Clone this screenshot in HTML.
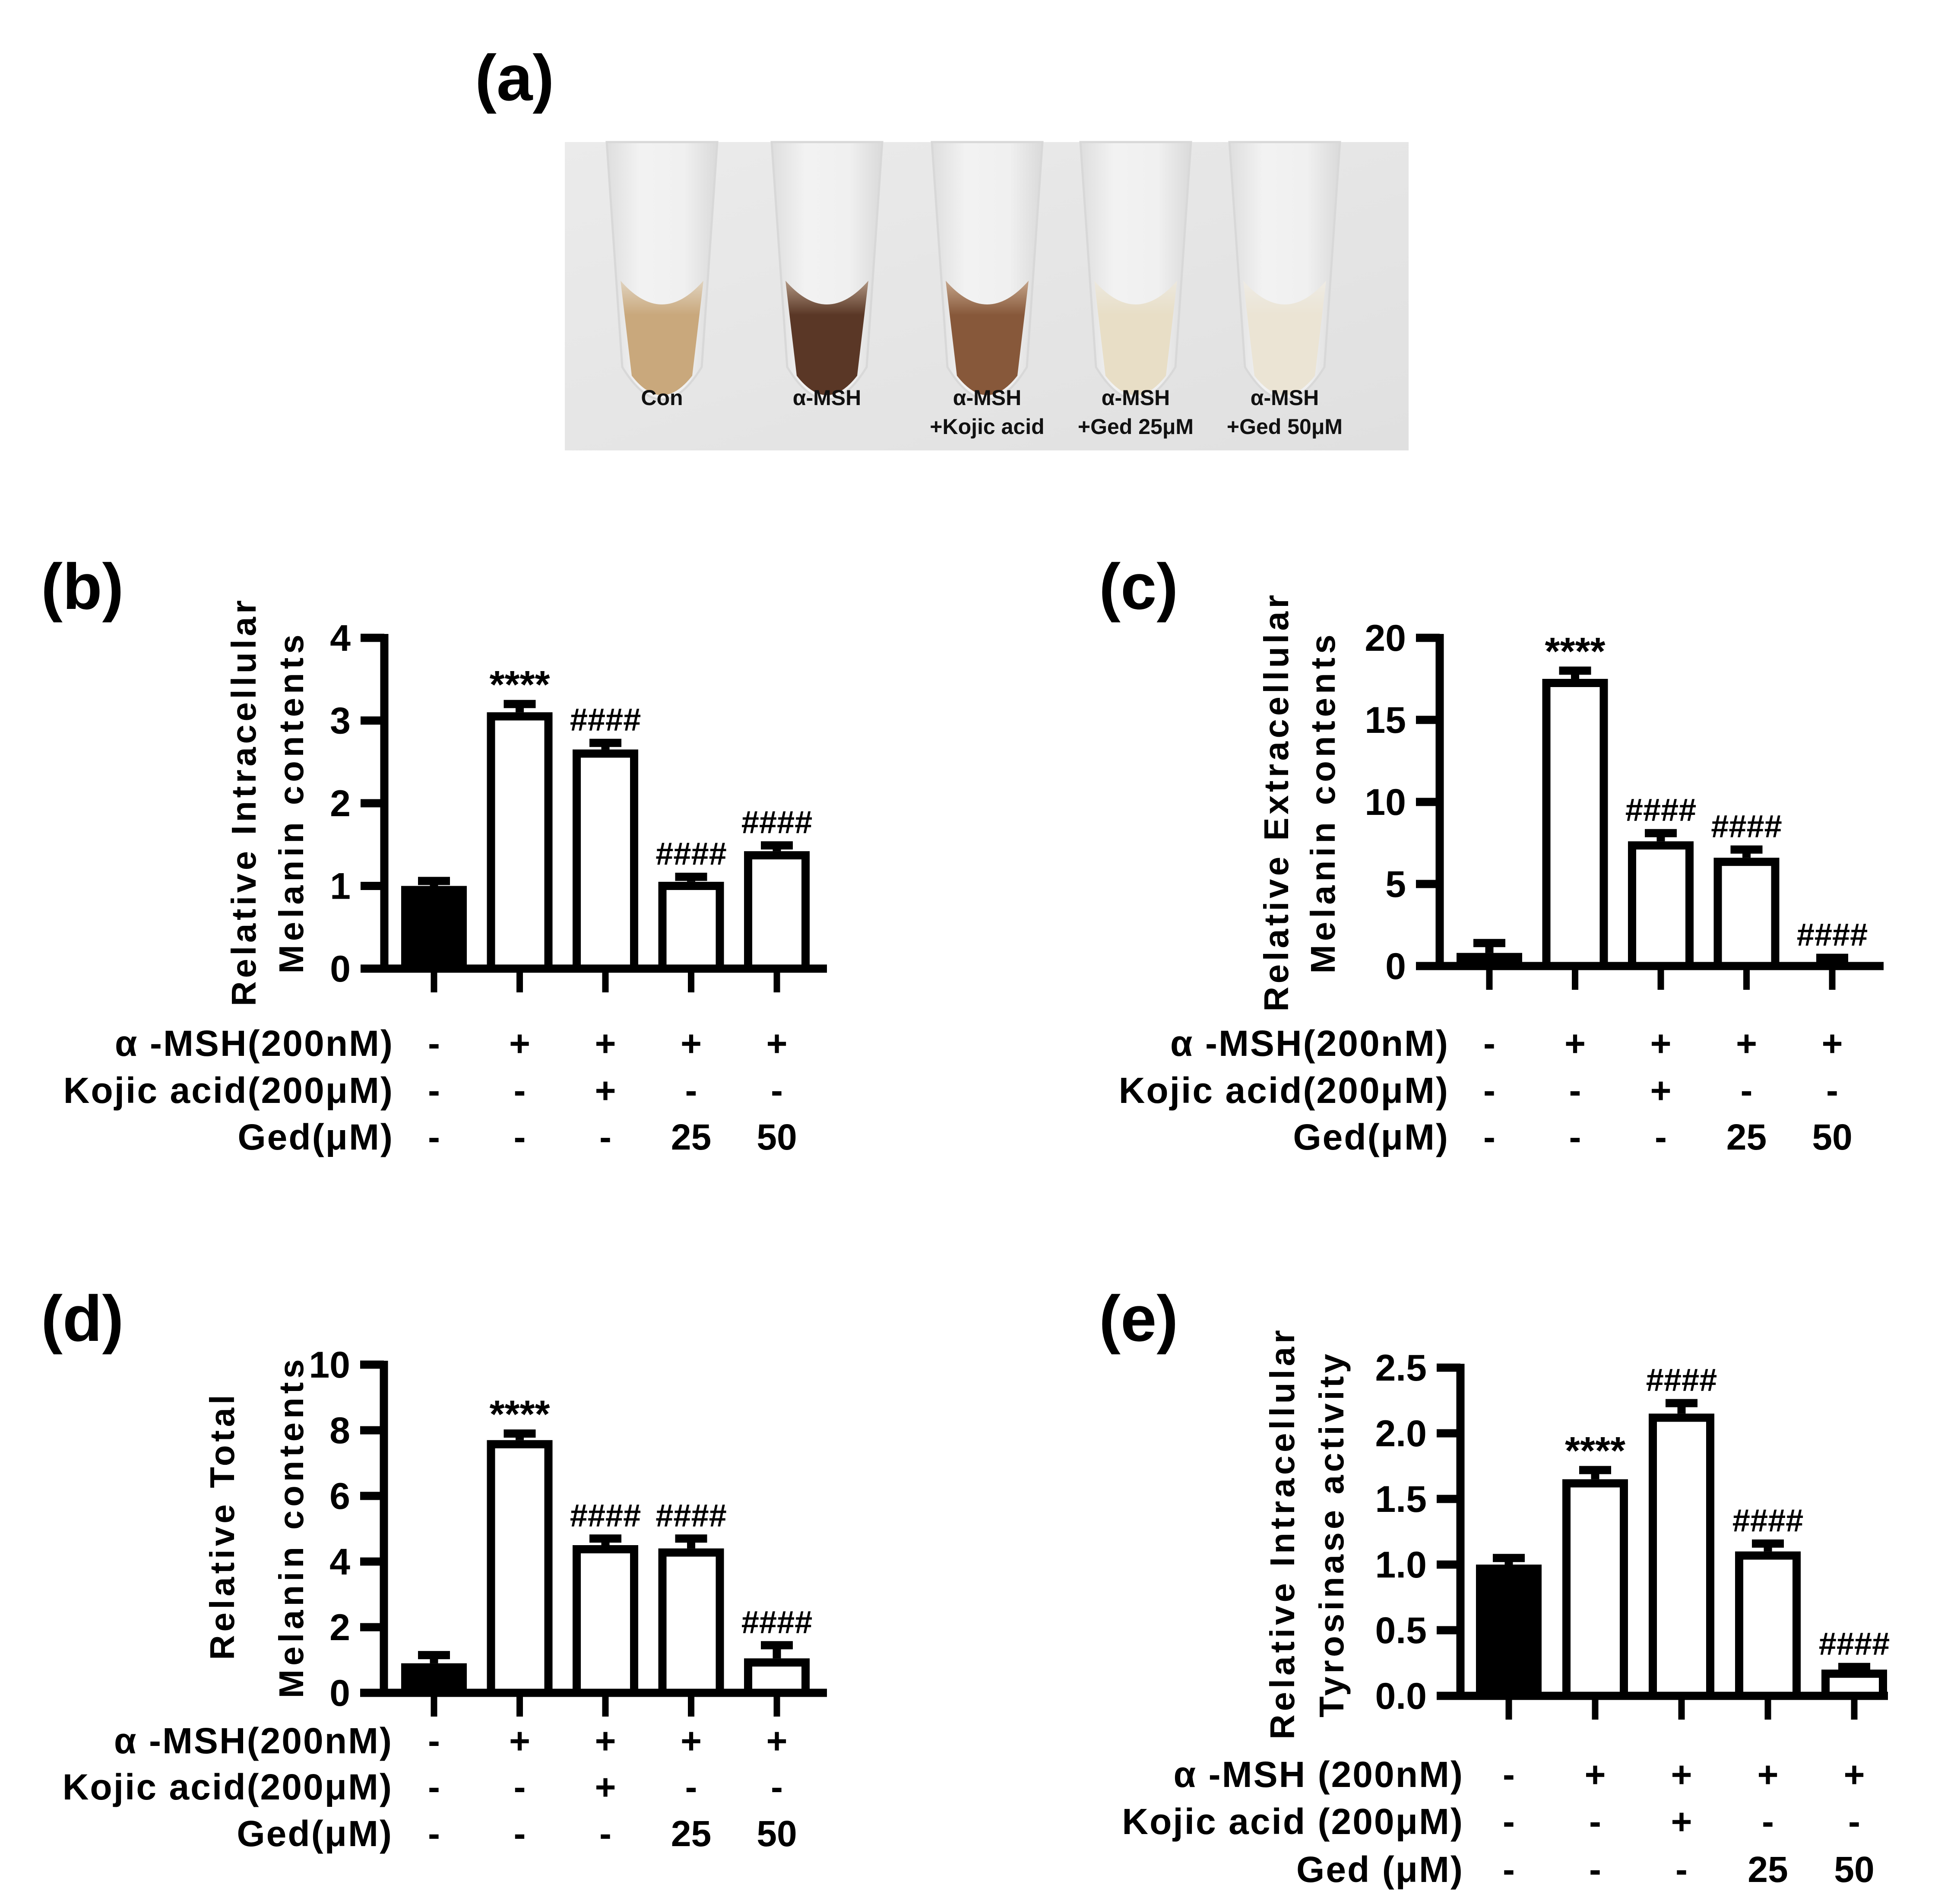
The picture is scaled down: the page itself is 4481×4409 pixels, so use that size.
<!DOCTYPE html>
<html><head><meta charset="utf-8"><title>Melanin figure</title>
<style>
html,body{margin:0;padding:0;background:#fff;}
svg{display:block;}
text{font-family:"Liberation Sans",Arial,sans-serif;}
</style></head>
<body>
<svg id="fig" width="4481" height="4409" viewBox="0 0 4481 4409" xmlns="http://www.w3.org/2000/svg">
<defs>
  <linearGradient id="bg" x1="0" y1="0" x2="1" y2="1">
    <stop offset="0" stop-color="#ebebeb"/><stop offset="1" stop-color="#e0e0e0"/>
  </linearGradient>
  <linearGradient id="tubeG" x1="0" y1="0" x2="1" y2="0">
    <stop offset="0" stop-color="#dedede"/><stop offset="0.3" stop-color="#f2f2f2"/><stop offset="0.7" stop-color="#f0f0f0"/><stop offset="1" stop-color="#dadada"/>
  </linearGradient>
</defs>
<g id="photo">
  <rect x="1308" y="329" width="1954" height="714" fill="url(#bg)"/>
</g>
<g id="panels"></g>
</svg>
<script>
// ---- Photo data ----
const tubeLabels1 = ["Con","α-MSH","α-MSH","α-MSH","α-MSH"];
const tubeLabels2 = ["","","+Kojic acid","+Ged 25μM","+Ged 50μM"];
const tubeColors = ["#c9a87c","#5a3726","#87583a","#e8dec6","#ebe4d4"];
const tubeTopColors = ["#e0d3bf","#b09682","#c4a48a","#ece8de","#eeebe4"];
const tubeCenters = [1533,1915,2286,2630,2975];

// ---- Chart data ----
const groups = ["Con","α-MSH","α-MSH+Kojic","α-MSH+Ged25","α-MSH+Ged50"];
const rowMSH = ["-","+","+","+","+"];
const rowKojic = ["-","-","+","-","-"];
const rowGed = ["-","-","-","25","50"];

const bValues = [1.0,3.1,2.65,1.05,1.42];
const bErrors = [0.06,0.1,0.08,0.06,0.07];
const bTicks = [0,1,2,3,4];
const bTickLabels = ["0","1","2","3","4"];
const bSig = ["","****","####","####","####"];

const cValues = [0.8,17.5,7.6,6.6,0.2];
const cErrors = [0.6,0.5,0.5,0.5,0.3];
const cTicks = [0,5,10,15,20];
const cTickLabels = ["0","5","10","15","20"];
const cSig = ["","****","####","####","####"];

const dValues = [0.9,7.7,4.5,4.4,1.05];
const dErrors = [0.25,0.2,0.2,0.3,0.4];
const dTicks = [0,2,4,6,8,10];
const dTickLabels = ["0","2","4","6","8","10"];
const dSig = ["","****","####","####","####"];

const eValues = [1.0,1.65,2.15,1.1,0.2];
const eErrors = [0.05,0.07,0.08,0.06,0.02];
const eTicks = [0,0.5,1.0,1.5,2.0,2.5];
const eTickLabels = ["0.0","0.5","1.0","1.5","2.0","2.5"];
const eSig = ["","****","####","####","####"];

const NS = "http://www.w3.org/2000/svg";
function mk(tag, attrs, parent){
  const el = document.createElementNS(NS, tag);
  for (const k in attrs) el.setAttribute(k, attrs[k]);
  parent.appendChild(el);
  return el;
}
const svg = document.getElementById('fig');
const photo = document.getElementById('photo');
const panels = document.getElementById('panels');

// ---- photo tubes ----
tubeCenters.forEach((cx, i) => {
  const g = mk('g', {}, photo);
  
  
  const tube = mk('path', {d:`M${cx-128},329 L${cx-92},850 Q${cx},1000 ${cx+92},850 L${cx+128},329 Z`, fill:'url(#tubeG)', stroke:'#d8d8d8', 'stroke-width':5}, g);
  
  
  const gid = 'liq' + i;
  const lg = mk('linearGradient', {id:gid, x1:0, y1:0, x2:0, y2:1}, svg.querySelector('defs'));
  mk('stop', {offset:0, 'stop-color':tubeTopColors[i]}, lg);
  mk('stop', {offset:0.3, 'stop-color':tubeColors[i]}, lg);
  mk('stop', {offset:1, 'stop-color':tubeColors[i]}, lg);
  const liq = mk('path', {d:`M${cx-96},650 L${cx-70},870 Q${cx},960 ${cx+70},870 L${cx+96},650 Q${cx},760 ${cx-96},650 Z`, fill:'url(#'+gid+')'}, g);
  
  
  const t1 = mk('text', {x:cx, y:938, 'font-size':50, 'font-weight':'bold', 'text-anchor':'middle', fill:'#111'}, g);
  t1.textContent = tubeLabels1[i];
  
  
  if (tubeLabels2[i]) {
    const t2 = mk('text', {x:cx, y:1005, 'font-size':50, 'font-weight':'bold', 'text-anchor':'middle', fill:'#111'}, g);
    t2.textContent = tubeLabels2[i];
    
    
  }
});

// ---- bar panels ----
function panel(cfg){
  const g = mk('g', {}, panels);
  
  
  const y = v => cfg.y0 - (v - 0) * (cfg.y0 - cfg.yTop) / cfg.vmax;
  const x = i => cfg.x0 + i * cfg.step;
  const L = mk('text', {x:cfg.lx, y:cfg.ly, 'font-size':150, 'font-weight':'bold'}, g);
  L.textContent = '(' + cfg.id + ')';
  
  
  cfg.values.forEach((v, i) => {
    const top = y(v);
    const err = y(v + cfg.errors[i]);
    const bw = 152, sw = 19;
    const eb = mk('path', {d:`M${x(i)},${top} V${err} M${x(i)-37},${err} H${x(i)+37}`, stroke:'#000', 'stroke-width':sw, fill:'none'}, g);
    
    
    const r = mk('rect', {x:x(i)-bw/2+sw/2, y:top+sw/2, width:bw-sw, height:Math.max(0, cfg.y0-top-sw/2), fill:i===0?'#000':'#fff', stroke:'#000', 'stroke-width':sw}, g);
    
    
    if (cfg.sig[i]) {
      const isStar = cfg.sig[i][0] === '*';
      const s = mk('text', {x:x(i), y:err - 28 + (isStar ? 14 : 0), 'font-size':isStar?90:74, 'font-weight':'bold', 'text-anchor':'middle', fill:'#000'}, g);
      s.textContent = cfg.sig[i];
      
      
    }
    const xt = mk('line', {x1:x(i), x2:x(i), y1:cfg.y0, y2:cfg.y0+55, stroke:'#000', 'stroke-width':15}, g);
    
    
    [rowMSH, rowKojic, rowGed].forEach((row, k) => {
      const t = mk('text', {x:x(i), y:cfg.rows[k]+30, 'font-size':84, 'font-weight':'bold', 'text-anchor':'middle'}, g);
      t.textContent = row[i];
      
      
    });
  });
  const ax = mk('path', {d:`M${cfg.ax},${cfg.yTop-9} V${cfg.y0} M${cfg.ax-55},${cfg.y0} H${cfg.xEnd}`, stroke:'#000', 'stroke-width':19, fill:'none'}, g);
  
  
  cfg.ticks.forEach((tv, k) => {
    const tl = mk('line', {x1:cfg.ax-55, x2:cfg.ax, y1:y(tv), y2:y(tv), stroke:'#000', 'stroke-width':19}, g);
    
    
    const t = mk('text', {x:cfg.ax-78, y:y(tv)+30, 'font-size':86, 'font-weight':'bold', 'text-anchor':'end'}, g);
    t.textContent = cfg.tickLabels[k];
    
    
  });
  cfg.titles.forEach((tt, k) => {
    const t = mk('text', {x:0, y:0, 'font-size':80, 'font-weight':'bold', 'text-anchor':'middle', transform:`translate(${tt.x},${tt.y}) rotate(-90)`, textLength:tt.len, lengthAdjust:'spacing'}, g);
    t.textContent = tt.text;
    
    
  });
  cfg.rowLabels.forEach((rl, k) => {
    const t = mk('text', {x:cfg.rlx, y:cfg.rows[k]+30, 'font-size':84, 'font-weight':'bold', 'text-anchor':'end', 'letter-spacing':3}, g);
    t.textContent = rl;
    
    
  });
}

const rowsNoSpace = ["α -MSH(200nM)","Kojic acid(200μM)","Ged(μM)"];
panel({id:'b', lx:95, ly:1410, x0:1005, step:198.5, ax:890, xEnd:1915, y0:2243, yTop:1477, vmax:4,
  values:bValues, errors:bErrors, ticks:bTicks, tickLabels:bTickLabels, sig:bSig,
  rows:[2415,2524,2632], rowLabels:rowsNoSpace, rlx:912,
  titles:[{text:'Relative Intracellular', x:592, y:1860, len:940},{text:'Melanin contents', x:702, y:1862, len:785}]});
panel({id:'c', lx:2545, ly:1410, x0:3449, step:198.5, ax:3334, xEnd:4362, y0:2237, yTop:1477, vmax:20,
  values:cValues, errors:cErrors, ticks:cTicks, tickLabels:cTickLabels, sig:cSig,
  rows:[2415,2524,2632], rowLabels:rowsNoSpace, rlx:3356,
  titles:[{text:'Relative Extracellular', x:2983, y:1860, len:965},{text:'Melanin contents', x:3091, y:1862, len:785}]});
panel({id:'d', lx:95, ly:3105, x0:1005, step:198.5, ax:889, xEnd:1915, y0:3920, yTop:3160, vmax:10,
  values:dValues, errors:dErrors, ticks:dTicks, tickLabels:dTickLabels, sig:dSig,
  rows:[4030,4137,4245], rowLabels:rowsNoSpace, rlx:910,
  titles:[{text:'Relative Total', x:542, y:3537, len:614},{text:'Melanin contents', x:702, y:3540, len:785}]});
panel({id:'e', lx:2545, ly:3105, x0:3494, step:200, ax:3382, xEnd:4372, y0:3927, yTop:3167, vmax:2.5,
  values:eValues, errors:eErrors, ticks:eTicks, tickLabels:eTickLabels, sig:eSig,
  rows:[4108,4217,4328], rowLabels:["α -MSH (200nM)","Kojic acid (200μM)","Ged (μM)"], rlx:3390,
  titles:[{text:'Relative Intracellular', x:2997, y:3554, len:948},{text:'Tyrosinase activity', x:3111, y:3556, len:842}]});

const aL = mk('text', {x:1100, y:232, 'font-size':150, 'font-weight':'bold'}, svg);
aL.textContent = '(a)';


</script>
</body></html>
